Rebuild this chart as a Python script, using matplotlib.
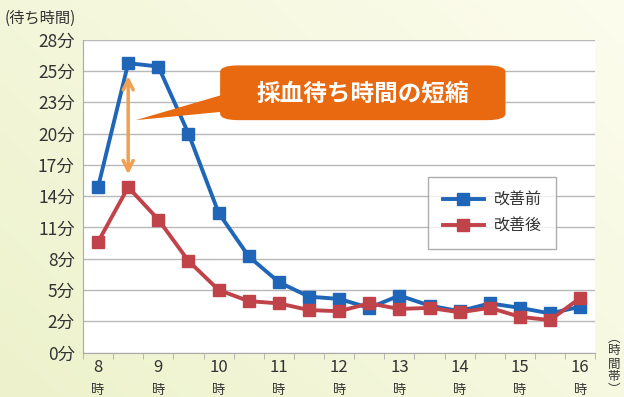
import numpy as np
import matplotlib
matplotlib.use("Agg")
import matplotlib.pyplot as plt
from matplotlib.patches import FancyBboxPatch, Polygon
import matplotlib.transforms as mtransforms

plt.rcParams['font.family'] = ['Noto Sans CJK JP', 'DejaVu Sans']

# データ
horas = ["8", "8.5", "9", "9.5", "10", "10.5", "11", "11.5", "12", "12.5",
         "13", "13.5", "14", "14.5", "15", "15.5", "16"]
antes = [14.8, 25.9, 25.6, 19.6, 12.5, 8.6, 6.3, 5.0, 4.8, 4.0,
         5.1, 4.2, 3.7, 4.4, 4.0, 3.5, 4.1]
despues = [9.9, 14.8, 11.9, 8.2, 5.6, 4.6, 4.4, 3.8, 3.7, 4.4,
           3.9, 4.0, 3.6, 4.0, 3.2, 2.9, 4.9]
etiquetas_y = ["0分", "2分", "5分", "8分", "11分", "14分", "17分",
               "20分", "23分", "25分", "28分"]
etiquetas_x = ["8", "9", "10", "11", "12", "13", "14", "15", "16"]
nombres = ["改善前", "改善後"]
colores = ["#1f66b8", "#c0434a"]

fig = plt.figure(figsize=(6.24, 3.97), dpi=100)

# fondo degradado
bg = fig.add_axes([0, 0, 1, 1], zorder=-10)
gx = np.linspace(0, 1, 200)
gy = np.linspace(0, 1, 200)
GX, GY = np.meshgrid(gx, gy)
t = np.clip(0.6 * GX + 0.4 * (1 - GY), 0, 1)
c1 = np.array([0.93, 0.95, 0.80])
c2 = np.array([0.99, 0.99, 0.93])
img = c1[None, None, :] * (1 - t[..., None]) + c2[None, None, :] * t[..., None]
bg.imshow(img, aspect="auto", extent=[0, 1, 0, 1])
bg.axis("off")

ax = fig.add_axes([0.133, 0.112, 0.821, 0.788])
ax.set_facecolor("white")
x = np.arange(len(horas))

for serie, nombre, color in zip([antes, despues], nombres, colores):
    ax.plot(x, serie, color=color, lw=2.8, marker="s", markersize=9,
            label=nombre, zorder=3)

ax.set_xlim(-0.5, len(horas) - 0.5)
ax.set_ylim(0, 28)
ax.set_yticks(np.arange(11) * 2.8)
ax.set_yticklabels(etiquetas_y, fontsize=12.5, color="#333333")
ax.yaxis.grid(True, color="#b8b8b8", lw=1)
ax.set_axisbelow(True)
ax.tick_params(axis="y", length=0, pad=6)

ax.set_xticks(x[::2])
ax.set_xticklabels(etiquetas_x, fontsize=12, color="#333333")
ax.set_xticks(np.arange(-0.5, len(horas)), minor=True)
ax.tick_params(axis="x", which="major", length=0, pad=5)
ax.tick_params(axis="x", which="minor", length=4, color="#aaaaaa")

trans = mtransforms.blended_transform_factory(ax.transData, ax.transAxes)
for xi in x[::2]:
    ax.text(xi, -0.1, "時", transform=trans, ha="center", va="top",
            fontsize=9.5, color="#333333")

for lado in ["top", "right"]:
    ax.spines[lado].set_visible(False)
for lado in ["left", "bottom"]:
    ax.spines[lado].set_color("#aaaaaa")

# flecha doble
ax.annotate("", xy=(1, 25.0), xytext=(1, 15.7),
            arrowprops=dict(arrowstyle="<->", color="#f0a050", lw=2.5,
                            mutation_scale=18), zorder=4)

# globo
caja = FancyBboxPatch((4.05, 20.8), 9.47, 4.9, boxstyle="round,pad=0,rounding_size=0.6",
                      fc="#e8690f", ec="none", zorder=5)
ax.add_patch(caja)
cola = Polygon([(1.25, 20.8), (4.3, 23.2), (4.3, 21.6)], closed=True,
               fc="#e8690f", ec="none", zorder=5)
ax.add_patch(cola)
ax.text(8.8, 23.2, "採血待ち時間の短縮", ha="center", va="center",
        fontsize=17, color="white", fontweight="bold", zorder=6)

leg = ax.legend(loc="upper left", bbox_to_anchor=(0.674, 0.561), fontsize=11.5,
                frameon=True, fancybox=False, edgecolor="#999999",
                handlelength=2.6, borderpad=0.9, labelspacing=0.6,
                borderaxespad=0, handletextpad=0.6)
leg.get_frame().set_linewidth(1.0)
for txt in leg.get_texts():
    txt.set_color("#333333")

fig.text(0.008, 0.955, "(待ち時間)", fontsize=11, color="#333333", ha="left", va="center")
fig.text(0.984, 0.165, "︵\n時\n間\n帯\n︶", fontsize=9, color="#333333",
         ha="center", va="top", linespacing=1.0)

fig.savefig("out.png", dpi=100)
